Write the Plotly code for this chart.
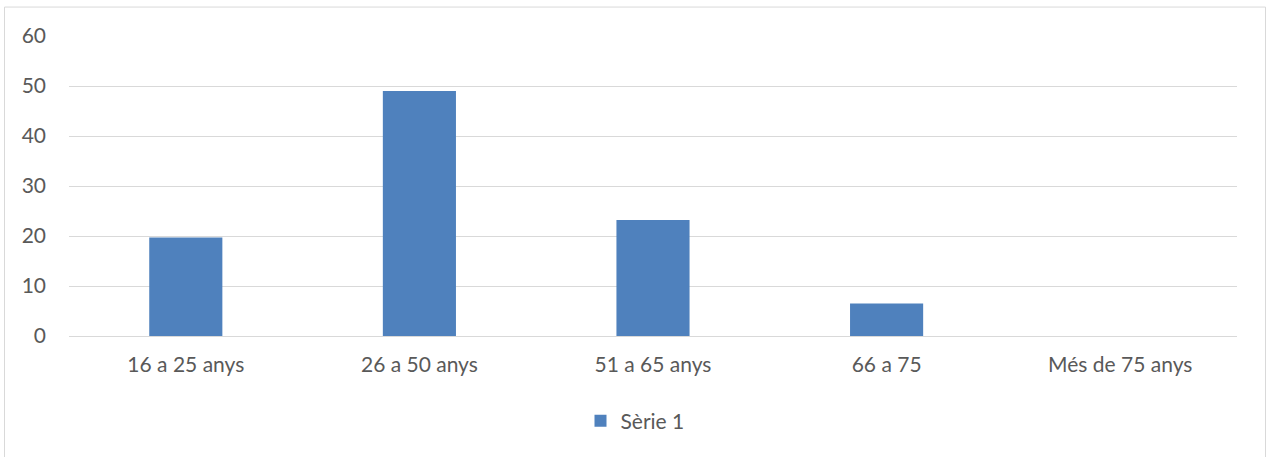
import plotly.graph_objects as go

# Age groups and survey values
categories = ["16 a 25 anys", "26 a 50 anys", "51 a 65 anys", "66 a 75", "Més de 75 anys"]
serie_1 = [19.7, 49.0, 23.2, 6.5, 0.0]
y_ticks = [0, 10, 20, 30, 40, 50, 60]

W, H = 1266, 457
L, R, T, B = 69, 29, 35.5, 121
pw = W - L - R
ph = H - T - B

text_color = "#595959"
grid_color = "#d9d9d9"
font_family = "Lato, Open Sans, sans-serif"

fig = go.Figure()
fig.add_trace(go.Bar(
    x=categories,
    y=serie_1,
    name="Sèrie 1",
    marker=dict(color="#4f81bd", line=dict(width=0)),
    showlegend=True,
))

# outer chart frame (bottom edge runs past the canvas)
fig.add_shape(
    type="rect", xref="paper", yref="paper",
    x0=(4.5 - L) / pw, x1=(W - 0.5 - L) / pw,
    y0=-(B + 10) / ph,
    y1=(ph + T - 6.5) / ph,
    line=dict(color=grid_color, width=1),
    fillcolor="rgba(0,0,0,0)",
    layer="below",
)

fig.update_layout(
    width=W, height=H,
    margin=dict(l=L, r=R, t=T, b=B, pad=0),
    paper_bgcolor="white",
    plot_bgcolor="white",
    bargap=0.687,
    font=dict(family=font_family, size=21, color=text_color),
    xaxis=dict(
        showgrid=False, showline=False, zeroline=False,
        ticks="", ticklabelstandoff=14,
        tickfont=dict(size=21, color=text_color),
    ),
    yaxis=dict(
        range=[0, 60], tickvals=y_ticks,
        showgrid=True, gridcolor=grid_color, gridwidth=1.3,
        zeroline=True, zerolinecolor=grid_color, zerolinewidth=1.3,
        showline=False, ticks="", ticklabelstandoff=22,
        tickfont=dict(size=21, color=text_color),
    ),
    legend=dict(
        orientation="h",
        xref="container", yref="container",
        x=635 / W, xanchor="center",
        y=1 - 421 / H, yanchor="middle",
        font=dict(size=21, color=text_color),
        itemwidth=30,
    ),
)

fig.write_html("out.html")
